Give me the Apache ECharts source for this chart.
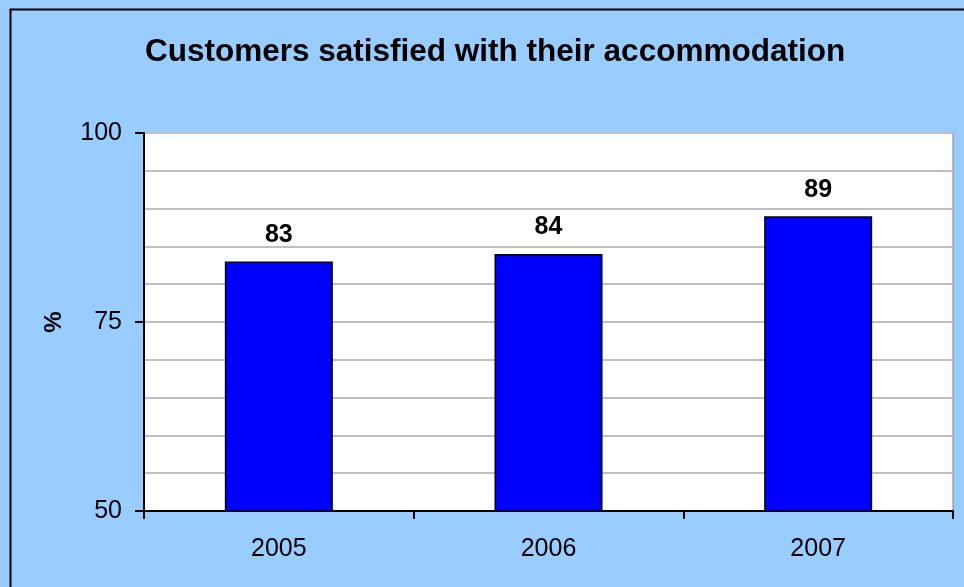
<!DOCTYPE html>
<html>
<head>
<meta charset="utf-8">
<script src="https://cdn.jsdelivr.net/npm/echarts@6/dist/echarts.min.js"></script>
<style>
  html, body { margin: 0; padding: 0; background: #99CCFF; }
  #chart { width: 964px; height: 587px; }
</style>
</head>
<body>
<div id="chart"></div>
<script>
// Survey results by year
const years = ['2005', '2006', '2007'];
const satisfied = [83, 84, 89];
const chartTitle = 'Customers satisfied with their accommodation';
const yAxisName = '%';

const chart = echarts.init(document.getElementById('chart'));
const font = 'Liberation Sans, Arial, sans-serif';

chart.setOption({
  backgroundColor: '#99CCFF',
  animation: false,
  title: {
    text: chartTitle,
    left: 140,
    top: 31,
    textStyle: { fontFamily: font, fontSize: 31.5, fontWeight: 'bold', color: '#000' }
  },
  graphic: [{
    type: 'rect',
    left: 8,
    top: 7,
    shape: { width: 1000, height: 1000 },
    style: { fill: 'none', stroke: '#000', lineWidth: 2 },
    silent: true
  }],
  grid: {
    left: 144, right: 11, top: 133, bottom: 76,
    show: true,
    backgroundColor: '#fff',
    borderColor: '#808080',
    borderWidth: 1
  },
  xAxis: {
    type: 'category',
    data: years,
    axisLine: { lineStyle: { color: '#000', width: 2 } },
    axisTick: { show: true, length: 8, lineStyle: { color: '#000', width: 2 } },
    axisLabel: { fontFamily: font, fontSize: 25, color: '#000', margin: 26 }
  },
  yAxis: {
    type: 'value',
    min: 50, max: 100, interval: 25,
    name: yAxisName,
    nameLocation: 'middle',
    nameGap: 78,
    nameRotate: 90,
    nameTextStyle: { fontFamily: font, fontSize: 24, fontWeight: 'bold', color: '#000' },
    axisLine: { show: true, lineStyle: { color: '#000', width: 2 } },
    axisTick: { show: true, length: 9, lineStyle: { color: '#000', width: 2 } },
    axisLabel: { fontFamily: font, fontSize: 25, color: '#000', margin: 22 },
    splitLine: { show: true, lineStyle: { color: '#C0C0C0', width: 2 } },
    minorTick: { show: false, splitNumber: 5 },
    minorSplitLine: { show: true, lineStyle: { color: '#C0C0C0', width: 2 } }
  },
  series: [{
    type: 'bar',
    data: satisfied,
    barWidth: 108,
    itemStyle: { color: '#0000FF', borderColor: '#000', borderWidth: 1.5 },
    label: {
      show: true,
      position: 'top',
      distance: 14,
      fontFamily: font,
      fontSize: 25,
      fontWeight: 'bold',
      color: '#000'
    }
  }]
});
</script>
</body>
</html>
